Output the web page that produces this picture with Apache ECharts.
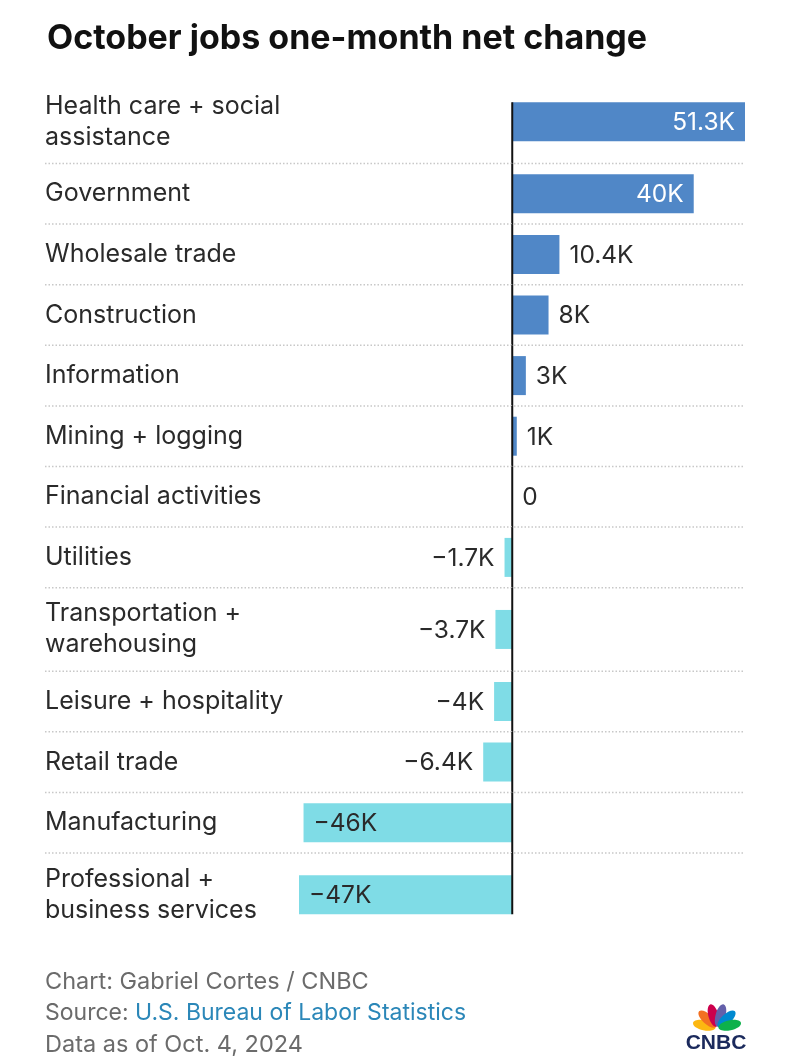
<!DOCTYPE html>
<html>
<head>
<meta charset="utf-8">
<script src="https://cdn.jsdelivr.net/npm/echarts@6/dist/echarts.min.js"></script>
<style>
  html, body { margin: 0; padding: 0; background: #fff; }
  #chart { width: 796px; height: 1062px; }
</style>
</head>
<body>
<div id="chart"></div>
<script>
// data (thousands of jobs)
const categories = [
  'Health care + social\nassistance',
  'Government',
  'Wholesale trade',
  'Construction',
  'Information',
  'Mining + logging',
  'Financial activities',
  'Utilities',
  'Transportation +\nwarehousing',
  'Leisure + hospitality',
  'Retail trade',
  'Manufacturing',
  'Professional +\nbusiness services'
];
const values = [51.3, 40, 10.4, 8, 3, 1, 0, -1.7, -3.7, -4, -6.4, -46, -47];
const valueLabels = ['51.3K', '40K', '10.4K', '8K', '3K', '1K', '0', '\u22121.7K', '\u22123.7K', '\u22124K', '\u22126.4K', '\u221246K', '\u221247K'];

const FONT = 'Inter, Lato, sans-serif';
const POS_COLOR = '#5087c7';
const NEG_COLOR = '#7fdce6';
const BAR_H = 39;
const LABEL_X = 45;
const EXTRA_LINE = 0.378; // extra row height for a two-line label

// rows with two-line labels are taller
const rowSpan = categories.map(c => 1 + (c.split('\n').length - 1) * EXTRA_LINE);
const rowCenter = [];
let acc = 0;
rowSpan.forEach(s => { rowCenter.push(acc + s / 2); acc += s; });
const totalRows = acc;

var myChart = echarts.init(document.getElementById('chart'));

function renderRow(params, api) {
  const i = params.dataIndex;
  const v = api.value(0);
  const yc = api.value(1);
  const p0 = api.coord([0, yc]);
  const p1 = api.coord([v, yc]);
  const right = api.coord([51.3, yc])[0];
  const half = api.size([0, rowSpan[i]])[1] / 2;
  const last = categories.length - 1;
  const children = [];

  if (i > 0) {
    children.push({
      type: 'line',
      shape: { x1: LABEL_X, y1: p0[1] - half, x2: right, y2: p0[1] - half },
      style: { stroke: '#c8c8c8', lineWidth: 1.5, lineDash: [1.5, 2] }
    });
  }
  children.push({
    type: 'rect',
    shape: { x: Math.min(p0[0], p1[0]), y: p0[1] - BAR_H / 2, width: Math.abs(p1[0] - p0[0]), height: BAR_H },
    style: { fill: v >= 0 ? POS_COLOR : NEG_COLOR }
  });

  // value label: inside long bars, outside short ones
  const big = Math.abs(v) >= 20;
  let lx, align, fill;
  if (v >= 0) {
    lx = big ? p1[0] - 10 : p1[0] + 10;
    align = big ? 'right' : 'left';
    fill = big ? '#fff' : '#2a2a2a';
  } else {
    lx = big ? p1[0] + 10 : p1[0] - 10;
    align = big ? 'left' : 'right';
    fill = '#2a2a2a';
  }
  children.push({
    type: 'text',
    style: { text: valueLabels[i], x: lx, y: p0[1] + 1, align: align, verticalAlign: 'middle',
             fill: fill, fontSize: 24.5, fontFamily: FONT }
  });

  // category label
  children.push({
    type: 'text',
    style: { text: categories[i], x: LABEL_X, y: p0[1], align: 'left', verticalAlign: 'middle',
             fill: '#2a2a2a', fontSize: 25, fontFamily: FONT, lineHeight: 31 }
  });

  // zero line piece for this row
  children.push({
    type: 'line',
    shape: {
      x1: p0[0], y1: i === 0 ? p0[1] - BAR_H / 2 : p0[1] - half,
      x2: p0[0], y2: i === last ? p0[1] + BAR_H / 2 : p0[1] + half
    },
    style: { stroke: '#111', lineWidth: 2 }
  });

  return { type: 'group', children: children };
}

// CNBC peacock
const feathers = ['#fcb711', '#f37021', '#cc004c', '#6460aa', '#0089d0', '#0db14b'];
const featherAngles = [-78, -47, -16, 16, 47, 78];
const logo = feathers.map((c, k) => {
  const a = featherAngles[k] * Math.PI / 180;
  return {
    type: 'ellipse',
    x: 717 + 13 * Math.sin(a),
    y: 1028 - 13 * Math.cos(a),
    rotation: -a,
    shape: { cx: 0, cy: 0, rx: 5, ry: 11.5 },
    style: { fill: c }
  };
});

var option = {
  animation: false,
  title: {
    text: 'October jobs one-month net change',
    left: 42,
    top: 17,
    textStyle: { fontSize: 34, fontWeight: 'bold', color: '#111', fontFamily: FONT }
  },
  grid: { left: 299, right: 51, top: 80, bottom: 125.5 },
  xAxis: { type: 'value', min: -47, max: 51.3, show: false },
  yAxis: { type: 'value', min: 0, max: totalRows, inverse: true, show: false },
  series: [{
    type: 'custom',
    clip: false,
    renderItem: renderRow,
    encode: { x: 0, y: 1 },
    data: values.map((v, i) => [v, rowCenter[i]])
  }],
  graphic: [
    {
      type: 'text', left: 45, top: 970,
      style: { text: 'Chart: Gabriel Cortes / CNBC', fill: '#6b6b6b', fontSize: 23.5, fontFamily: FONT }
    },
    {
      type: 'text', left: 45, top: 1002,
      style: {
        text: '{g|Source: }{b|U.S. Bureau of Labor Statistics}',
        rich: {
          g: { fill: '#6b6b6b', fontSize: 23, fontFamily: FONT },
          b: { fill: '#2b87b8', fontSize: 23, fontFamily: FONT }
        }
      }
    },
    {
      type: 'text', left: 45, top: 1033,
      style: { text: 'Data as of Oct. 4, 2024', fill: '#6b6b6b', fontSize: 23.5, fontFamily: FONT }
    },
    {
      type: 'group',
      children: logo.concat([{
        type: 'text',
        style: { text: 'CNBC', x: 716, y: 1043, align: 'center', verticalAlign: 'middle',
                 fill: '#1b2a5c', fontSize: 21, fontWeight: 'bold', fontFamily: '"Liberation Sans", Arial, sans-serif' }
      }])
    }
  ]
};

myChart.setOption(option);
</script>
</body>
</html>
